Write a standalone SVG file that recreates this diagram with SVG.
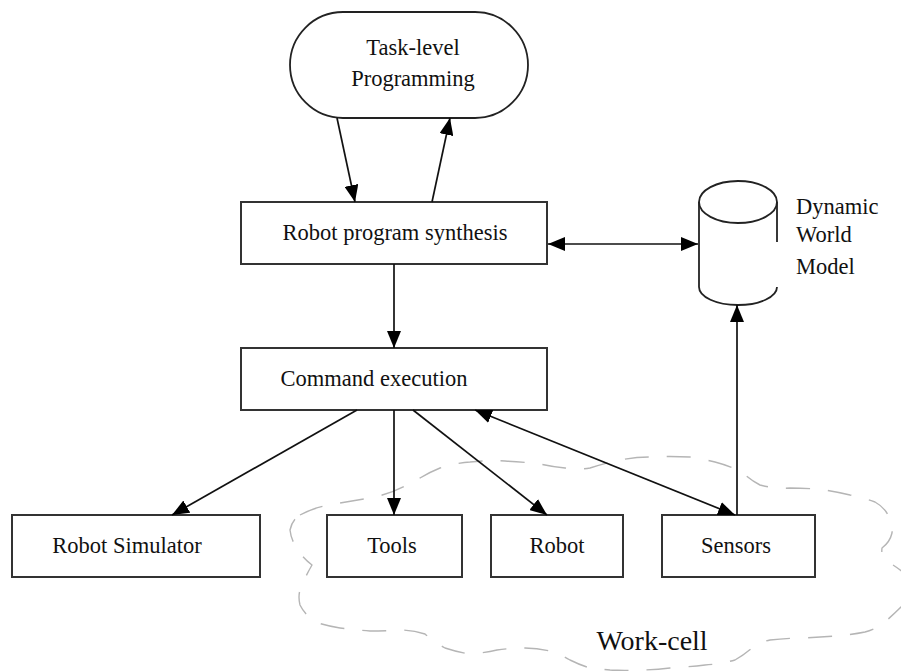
<svg xmlns="http://www.w3.org/2000/svg" width="901" height="671" viewBox="0 0 901 671">
<style>
  .box { fill: #fff; stroke: #333; stroke-width: 2; }
  .lbl { font-family: "Liberation Serif", "Times New Roman", serif; font-size: 22.5px; fill: #111; text-anchor: middle; }
  .side { font-family: "Liberation Serif", "Times New Roman", serif; font-size: 22.5px; fill: #111; }
  .edge { stroke: #111; stroke-width: 1.7; fill: none; }
  .cyl { fill: none; stroke: #222; stroke-width: 1.8; }
  .cloud { fill: none; stroke: #b5b5b5; stroke-width: 1.4; stroke-dasharray: 24 18; stroke-linejoin: round; }
</style>
<defs>
  <marker id="ah" viewBox="0 0 17 14" refX="17" refY="7" markerWidth="17" markerHeight="14" markerUnits="userSpaceOnUse" orient="auto-start-reverse">
    <path d="M0,0 L17,7 L0,14 Z" fill="#000"/>
  </marker>
</defs>
<rect width="901" height="671" fill="#fff"/>

<g id="workcell">
  <path class="cloud" d="M300,515 Q315,507 330,505 Q350,501 370,498 Q390,494 405,486 Q413,481 420,478 Q430,472 440,468 Q455,463 470,462 Q488,460 505,461 Q523,462 540,464 Q553,467 565,468 Q578,470 590,468 Q603,464 615,461 Q633,457 650,457 Q670,456 690,457 Q703,459 715,462 Q730,466 742,472 Q750,480 760,485 Q775,489 790,488 Q808,488 825,490 Q838,492 850,495 Q864,498 875,502 Q884,507 888,515 Q893,525 892,533 Q890,542 882,548 Q881,556 885,560 Q895,566 903,572 L903,605 Q896,612 885,622 Q876,629 865,632 Q850,635 835,636 Q820,637 805,638 Q787,638 770,640 Q760,642 752,648 Q744,655 735,660 Q720,664 705,665 Q688,667 670,668 Q655,670 640,670 Q625,671 610,670 Q600,669 590,668 Q580,665 570,660 Q560,654 550,651 Q538,648 525,648 Q511,648 497,650 Q484,653 470,654 Q457,652 445,648 Q434,642 425,634 Q413,630 400,630 Q385,631 370,631 Q355,630 340,628 Q327,626 315,622 Q305,615 300,605 Q298,597 300,590 Q305,577 312,565 Q303,558 298,550 Q291,540 290,530 Q292,520 300,515 Z"/>
  <text class="side" x="652" y="650" style="font-size:28px;text-anchor:middle">Work-cell</text>
</g>

<g id="task-level">
  <rect class="box" x="290" y="12" width="238" height="106" rx="53" ry="53" style="stroke:#222;stroke-width:1.8"/>
  <text class="lbl" x="413" y="55">Task-level</text>
  <text class="lbl" x="413" y="86">Programming</text>
</g>

<g id="synthesis">
  <rect class="box" x="241" y="202" width="306" height="62"/>
  <text class="lbl" x="395" y="240">Robot program synthesis</text>
</g>

<g id="command">
  <rect class="box" x="241" y="348" width="306" height="62"/>
  <text class="lbl" x="374" y="386">Command execution</text>
</g>

<g id="world-model">
  <ellipse class="cyl" cx="738" cy="202" rx="39" ry="21" fill="#fff"/>
  <line class="cyl" x1="699" y1="202" x2="699" y2="287"/>
  <line class="cyl" x1="777" y1="202" x2="777" y2="242"/>
  <path class="cyl" d="M699,287 A39,18 0 0 0 777,287"/>
  <text class="side" x="796" y="214">Dynamic</text>
  <text class="side" x="796" y="242">World</text>
  <text class="side" x="796" y="274">Model</text>
</g>

<g id="simulator">
  <rect class="box" x="12" y="515" width="248" height="62"/>
  <text class="lbl" x="127" y="553">Robot Simulator</text>
</g>

<g id="tools">
  <rect class="box" x="327" y="515" width="135" height="62"/>
  <text class="lbl" x="392" y="553">Tools</text>
</g>

<g id="robot">
  <rect class="box" x="491" y="515" width="132" height="62"/>
  <text class="lbl" x="557" y="553">Robot</text>
</g>

<g id="sensors">
  <rect class="box" x="662" y="515" width="153" height="62"/>
  <text class="lbl" x="736" y="553">Sensors</text>
</g>

<g id="connectors">
  <line class="edge" x1="337" y1="118" x2="355" y2="202" marker-end="url(#ah)"/>
  <line class="edge" x1="432" y1="202" x2="450" y2="118" marker-end="url(#ah)"/>
  <line class="edge" x1="548" y1="244" x2="698" y2="244" marker-start="url(#ah)" marker-end="url(#ah)"/>
  <line class="edge" x1="394" y1="264" x2="394" y2="348" marker-end="url(#ah)"/>
  <line class="edge" x1="357" y1="410" x2="172" y2="515" marker-end="url(#ah)"/>
  <line class="edge" x1="394" y1="410" x2="394" y2="515" marker-end="url(#ah)"/>
  <line class="edge" x1="413" y1="410" x2="547" y2="515" marker-end="url(#ah)"/>
  <line class="edge" x1="475" y1="410" x2="735" y2="515" marker-start="url(#ah)" marker-end="url(#ah)"/>
  <line class="edge" x1="737" y1="515" x2="737" y2="305" marker-end="url(#ah)"/>
</g>
</svg>
